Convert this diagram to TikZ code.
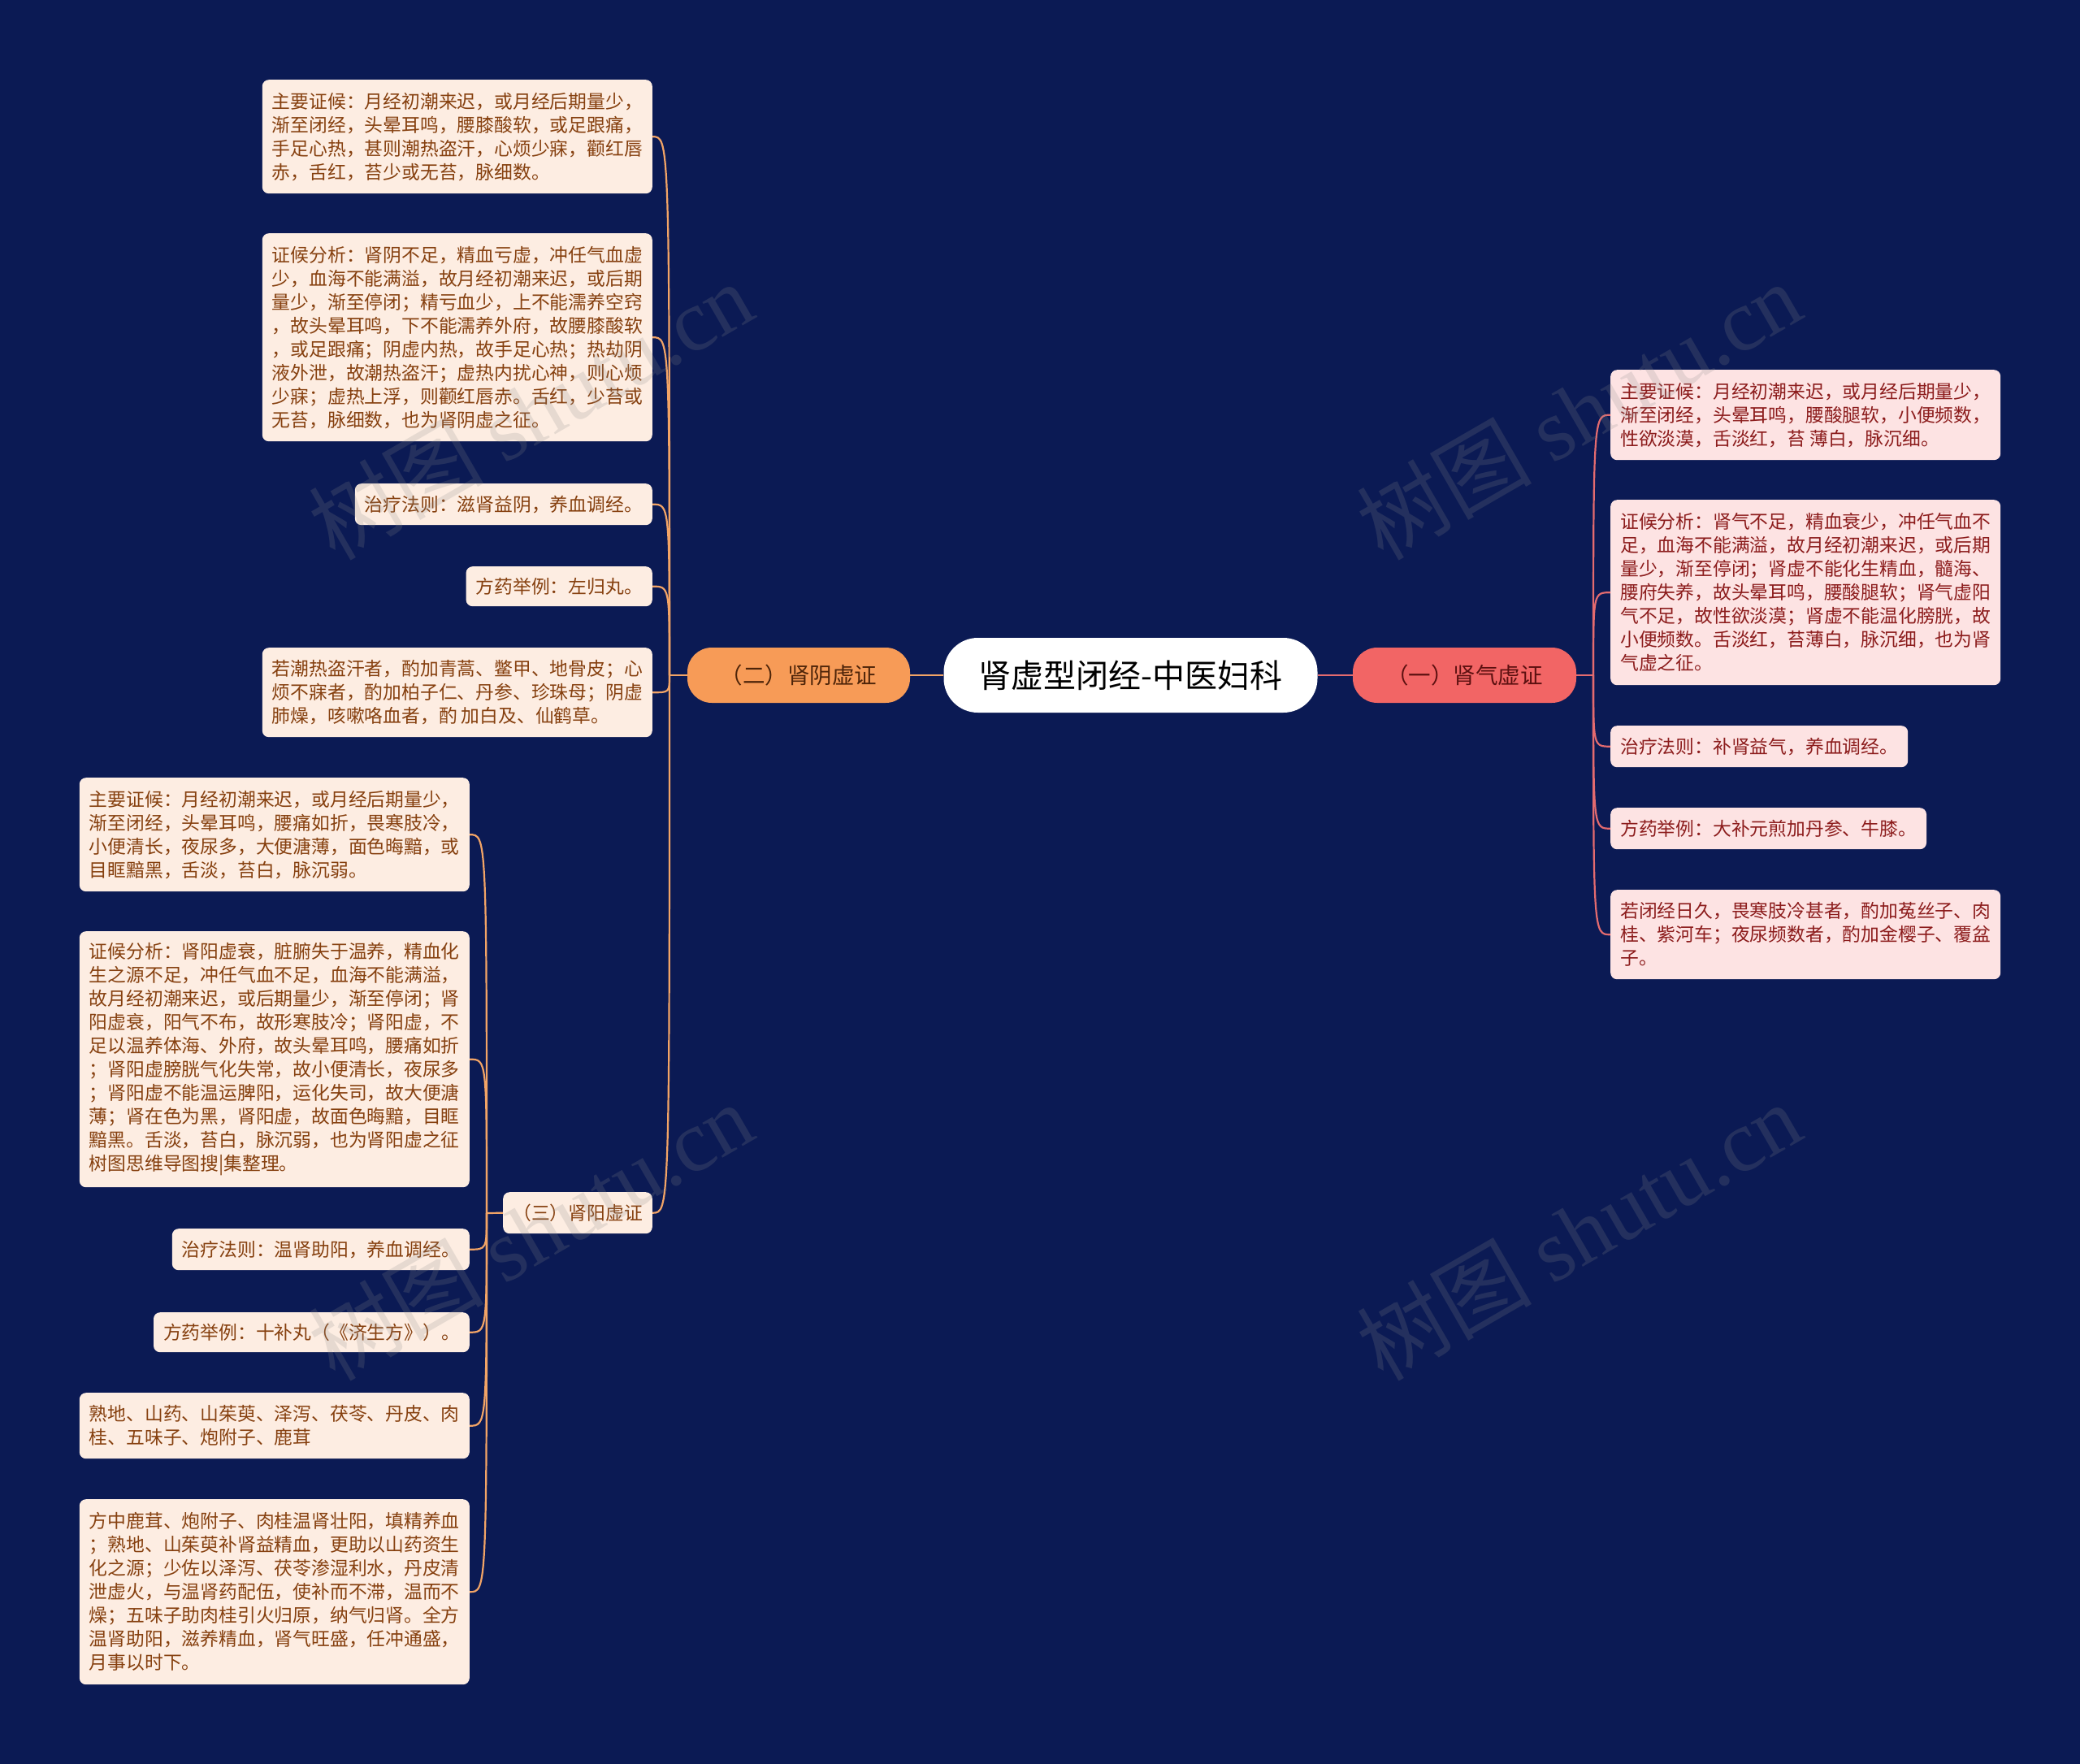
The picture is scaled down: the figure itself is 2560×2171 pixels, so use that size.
\documentclass[tikz,border=0pt]{standalone}
\usepackage{fontspec}
\setmainfont{Noto Sans CJK SC}
\newfontfamily\wmlatin{Liberation Serif}
\definecolor{bg}{HTML}{0B1A54}
\definecolor{lfill}{HTML}{FDEDE2}
\definecolor{ltext}{HTML}{86400F}
\definecolor{rfill}{HTML}{FDE3E3}
\definecolor{rtext}{HTML}{8C1C1C}
\definecolor{ornode}{HTML}{F79B57}
\definecolor{ortext}{HTML}{4D2409}
\definecolor{rdnode}{HTML}{F26565}
\definecolor{rdtext}{HTML}{5C1010}
\definecolor{oline}{HTML}{F2A466}
\definecolor{rline}{HTML}{E46B6F}
\definecolor{wmgray}{HTML}{8A8A8A}
\tikzset{
  leafbase/.style={rounded corners=8pt, inner xsep=12pt, inner ysep=0pt, align=left,
    font=\fontsize{22.8}{29}\selectfont},
  leafL/.style={leafbase, fill=lfill, text=ltext, anchor=north east},
  leafR/.style={leafbase, fill=rfill, text=rtext, anchor=north west},
  rootnode/.style={fill=white, text=black, rounded corners=42pt, minimum width=460pt,
    minimum height=92pt, inner sep=0pt, font=\fontsize{40}{48}\selectfont},
  subO/.style={fill=ornode, text=ortext, rounded corners=30pt, minimum width=274pt,
    minimum height=68pt, inner sep=0pt, font=\fontsize{27.5}{33}\selectfont},
  subR/.style={fill=rdnode, text=rdtext, rounded corners=30pt, minimum width=275pt,
    minimum height=68pt, inner sep=0pt, font=\fontsize{27.5}{33}\selectfont},
  oconn/.style={draw=oline, line width=2.2pt},
  rconn/.style={draw=rline, line width=2.2pt},
  wm/.style={text=wmgray, text opacity=0.2, font=\fontsize{108}{116}\selectfont, rotate=30}
}
\begin{document}
\begin{tikzpicture}[x=1pt, y=-1pt]
\fill[bg] (0,0) rectangle (2560,2171);
\useasboundingbox (0,0) rectangle (2560,2171);

% root and main branches
\node[rootnode] (C) at (1391.5,831) {肾虚型闭经-中医妇科};
\node[subO] (N2) at (983,831) {（二）肾阴虚证};
\node[subR] (N1) at (1802.5,831) {（一）肾气虚证};

% left branch (二)
\node[leafL, minimum height=140pt] (A1) at (803,98) {主要证候：月经初潮来迟，或月经后期量少，\\渐至闭经，头晕耳鸣，腰膝酸软，或足跟痛，\\手足心热，甚则潮热盗汗，心烦少寐，颧红唇\\赤，舌红，苔少或无苔，脉细数。};
\node[leafL, minimum height=256pt] (A2) at (803,287) {证候分析：肾阴不足，精血亏虚，冲任气血虚\\少，血海不能满溢，故月经初潮来迟，或后期\\量少，渐至停闭；精亏血少，上不能濡养空窍\\，故头晕耳鸣，下不能濡养外府，故腰膝酸软\\，或足跟痛；阴虚内热，故手足心热；热劫阴\\液外泄，故潮热盗汗；虚热内扰心神，则心烦\\少寐；虚热上浮，则颧红唇赤。舌红，少苔或\\无苔，脉细数，也为肾阴虚之征。};
\node[leafL, minimum height=51pt] (A3) at (803,595) {治疗法则：滋肾益阴，养血调经。};
\node[leafL, minimum height=49pt] (A4) at (803,697) {方药举例：左归丸。};
\node[leafL, minimum height=110pt] (A5) at (803,797) {若潮热盗汗者，酌加青蒿、鳖甲、地骨皮；心\\烦不寐者，酌加柏子仁、丹参、珍珠母；阴虚\\肺燥，咳嗽咯血者，酌 加白及、仙鹤草。};
\node[leafL, minimum height=51pt] (B) at (803,1467) {（三）肾阳虚证};

% sub-branch (三)
\node[leafL, minimum height=140pt] (B1) at (578,957) {主要证候：月经初潮来迟，或月经后期量少，\\渐至闭经，头晕耳鸣，腰痛如折，畏寒肢冷，\\小便清长，夜尿多，大便溏薄，面色晦黯，或\\目眶黯黑，舌淡，苔白，脉沉弱。};
\node[leafL, minimum height=315pt] (B2) at (578,1146) {证候分析：肾阳虚衰，脏腑失于温养，精血化\\生之源不足，冲任气血不足，血海不能满溢，\\故月经初潮来迟，或后期量少，渐至停闭；肾\\阳虚衰，阳气不布，故形寒肢冷；肾阳虚，不\\足以温养体海、外府，故头晕耳鸣，腰痛如折\\；肾阳虚膀胱气化失常，故小便清长，夜尿多\\；肾阳虚不能温运脾阳，运化失司，故大便溏\\薄；肾在色为黑，肾阳虚，故面色晦黯，目眶\\黯黑。舌淡，苔白，脉沉弱，也为肾阳虚之征\\树图思维导图搜|集整理。};
\node[leafL, minimum height=51pt] (B3) at (578,1512) {治疗法则：温肾助阳，养血调经。};
\node[leafL, minimum height=49pt] (B4) at (578,1615) {方药举例：十补丸（《济生方》）。};
\node[leafL, minimum height=81pt] (B5) at (578,1714) {熟地、山药、山茱萸、泽泻、茯苓、丹皮、肉\\桂、五味子、炮附子、鹿茸};
\node[leafL, minimum height=228pt] (B6) at (578,1845) {方中鹿茸、炮附子、肉桂温肾壮阳，填精养血\\；熟地、山茱萸补肾益精血，更助以山药资生\\化之源；少佐以泽泻、茯苓渗湿利水，丹皮清\\泄虚火，与温肾药配伍，使补而不滞，温而不\\燥；五味子助肉桂引火归原，纳气归肾。全方\\温肾助阳，滋养精血，肾气旺盛，任冲通盛，\\月事以时下。};

% right branch (一)
\node[leafR, minimum height=111pt] (R1) at (1982,455) {主要证候：月经初潮来迟，或月经后期量少，\\渐至闭经，头晕耳鸣，腰酸腿软，小便频数，\\性欲淡漠，舌淡红，苔 薄白，脉沉细。};
\node[leafR, minimum height=228pt] (R2) at (1982,615) {证候分析：肾气不足，精血衰少，冲任气血不\\足，血海不能满溢，故月经初潮来迟，或后期\\量少，渐至停闭；肾虚不能化生精血，髓海、\\腰府失养，故头晕耳鸣，腰酸腿软；肾气虚阳\\气不足，故性欲淡漠；肾虚不能温化膀胱，故\\小便频数。舌淡红，苔薄白，脉沉细，也为肾\\气虚之征。};
\node[leafR, minimum height=51pt] (R3) at (1982,893) {治疗法则：补肾益气，养血调经。};
\node[leafR, minimum height=51pt] (R4) at (1982,994) {方药举例：大补元煎加丹参、牛膝。};
\node[leafR, minimum height=110pt] (R5) at (1982,1095) {若闭经日久，畏寒肢冷甚者，酌加菟丝子、肉\\桂、紫河车；夜尿频数者，酌加金樱子、覆盆\\子。};

% junctions
\coordinate (J2) at (824,831);
\coordinate (J3) at (599,1493);
\coordinate (JR) at (1961,831);

% connectors
\draw[oconn] (C.west) -- (N2.east);
\draw[rconn] (C.east) -- (N1.west);
\draw[oconn] (N2.west) -- (J2);
\foreach \n in {A1,A2,A3,A4,A5,B}
  \draw[oconn] (J2) .. controls (J2 |- \n.east) .. (\n.east);
\draw[oconn] (B.west) -- (J3);
\foreach \n in {B1,B2,B3,B4,B5,B6}
  \draw[oconn] (J3) .. controls (J3 |- \n.east) .. (\n.east);
\draw[rconn] (N1.east) -- (JR);
\foreach \n in {R1,R2,R3,R4,R5}
  \draw[rconn] (JR) .. controls (JR |- \n.west) .. (\n.west);

% watermarks
\node[wm] (W1) at (653,505) {树图 {\wmlatin shutu.cn}};
\node[wm] (W2) at (1943,505) {树图 {\wmlatin shutu.cn}};
\node[wm] (W3) at (653,1515) {树图 {\wmlatin shutu.cn}};
\node[wm] (W4) at (1943,1515) {树图 {\wmlatin shutu.cn}};
\end{tikzpicture}
\end{document}
